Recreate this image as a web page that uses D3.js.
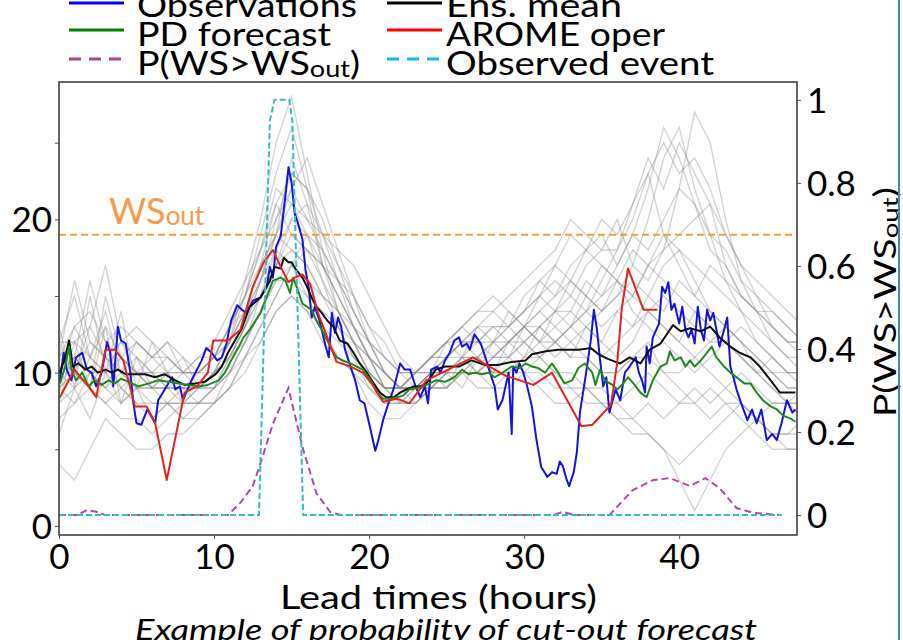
<!DOCTYPE html>
<html>
<head>
<meta charset="utf-8">
<script src="https://cdn.jsdelivr.net/npm/d3@7"></script>
<style>
body { margin: 0; background: #fff; }
text { font-family: Lato, "Noto Sans", sans-serif; }
</style>
</head>
<body>
<svg id="chart" width="903" height="640"></svg>
<script>
// ---- data ----
const xTicks = [0, 10, 20, 30, 40];
const yTicks = [0, 5, 10, 15, 20, 25];
const pTicks = [0, 0.2, 0.4, 0.6, 0.8, 1];
const wsOut = 19;

// observations (blue)
const obsH = [0.06,0.3,0.5,0.8,1.1,1.5,1.8,2.1,2.4,2.75,3.1,3.3,3.5,3.8,4.0,4.3,4.6,4.8,5.0,5.3,5.7,6.0,6.2,6.4,6.7,7.05,7.3,7.5,7.8,8.0,8.2,8.55,8.9,9.2,9.5,9.85,10.2,10.5,10.8,11.1,11.5,11.8,12.1,12.5,13.0,13.4,13.6,13.8,14.0,14.3,14.6,14.8,15.0,15.2,15.4,15.7,15.9,16.1,16.3,16.5,16.8,17.2,17.4,17.6,17.8,18.0,18.2,18.45,18.8,19.1,19.4,19.7,20.0,20.4,20.6,20.9,21.25,21.6,22.0,22.3,22.65,23.0,23.3,23.6,23.8,24.0,24.4,24.6,24.9,25.2,25.5,25.8,26.0,26.3,26.5,26.8,27.2,27.5,27.8,28.1,28.3,28.6,28.8,29.0,29.2,29.3,29.5,29.7,29.95,30.2,30.5,30.8,31.1,31.5,31.8,32.1,32.3,32.5,32.75,32.9,33.2,33.4,33.6,33.8,34.0,34.3,34.5,34.7,34.9,35.1,35.3,35.5,35.9,36.2,36.5,36.8,37.2,37.4,37.6,37.8,37.9,38.1,38.3,38.7,38.9,39.1,39.3,39.5,39.7,40.0,40.2,40.4,40.6,40.8,41.0,41.2,41.4,41.6,41.8,42.0,42.2,42.4,42.6,42.9,43.1,43.3,43.5,43.7,44.0,44.4,44.7,45.0,45.3,45.65,46.0,46.3,46.6,46.95,47.3,47.5];
const obsV = [9.5,11.3,10.2,9.5,11.0,11.3,10.2,10.0,9.1,10.0,12.0,11.3,9.1,13.0,12.1,11.9,10.0,8.0,6.7,6.6,7.6,7.1,6.7,8.2,8.7,9.3,9.7,8.9,9.1,8.2,8.7,9.5,10.2,10.8,11.6,11.3,10.8,11.0,11.9,13.4,14.4,14.1,13.9,14.7,14.9,15.6,16.9,16.2,18.2,18.9,21.5,23.4,22.4,20.4,19.8,18.7,16.7,15.6,13.6,14.3,13.4,11.7,11.0,13.9,12.6,13.6,13.0,11.5,10.4,9.5,8.2,8.0,6.7,4.9,5.6,6.9,8.0,9.0,10.6,10.2,10.2,9.1,8.4,9.1,8.0,10.2,10.4,10.0,10.8,11.3,12.1,12.3,11.7,11.9,11.5,12.5,11.9,11.0,10.0,9.1,7.6,8.2,9.1,10.0,6.0,10.4,10.0,10.6,10.0,9.1,7.8,5.6,3.85,3.2,3.5,3.4,4.2,3.9,3.0,2.6,3.5,4.8,7.4,8.7,10.0,12.1,14.1,12.8,10.8,9.1,9.7,7.4,8.9,8.2,10.0,10.4,11.0,10.0,9.5,8.7,11.7,10.6,12.3,13.2,15.6,15.2,15.9,14.1,14.5,13.2,14.3,12.8,12.3,12.8,11.9,14.3,12.8,12.1,14.1,13.4,13.9,12.8,11.7,12.8,13.6,10.4,9.7,8.9,8.0,6.9,7.6,6.7,7.6,5.6,6.0,5.6,6.7,8.2,7.4,7.6];

// ensemble mean (black)
const meanH = [0.06,0.4,0.65,0.9,1.25,1.7,2.1,2.5,3.0,3.4,3.8,4.3,4.9,5.55,6.2,6.8,7.5,8.1,8.8,9.4,10.1,10.5,10.9,11.35,11.8,12.3,13.0,13.6,13.9,14.3,14.5,14.8,15.0,15.3,15.7,16.0,16.3,16.6,16.95,17.3,17.7,18.1,18.6,19.0,19.4,19.85,20.3,20.7,21.1,21.6,22.0,22.4,22.9,23.3,23.7,24.3,24.9,25.8,26.6,27.5,28.3,29.2,30.1,30.5,31.4,32.2,32.9,33.5,34.3,34.8,35.4,35.9,36.2,36.8,37.5,38.1,38.8,39.4,39.6,40.1,40.7,41.4,42.0,42.6,43.3,43.9,44.6,45.2,45.9,46.5,47.2,47.5];
const meanV = [10.0,11.0,12.1,10.4,10.6,10.2,10.4,10.0,10.2,10.0,10.2,9.9,9.9,9.9,9.7,9.9,9.5,9.2,9.3,9.4,9.9,10.4,11.3,12.1,12.9,14.3,14.9,16.0,16.9,16.8,17.5,17.2,17.2,16.7,16.2,15.6,14.9,14.3,13.9,13.4,13.0,12.1,11.9,11.3,10.6,10.0,9.3,8.7,8.4,8.4,8.7,8.9,9.1,9.1,9.3,10.2,10.4,10.4,10.8,10.5,10.5,10.7,10.8,11.2,11.4,11.5,11.5,11.5,11.6,11.2,10.9,10.7,10.6,11.0,10.6,11.5,11.9,12.8,13.1,12.7,12.9,12.7,13.0,12.3,11.7,11.3,11.0,10.4,9.5,8.7,8.7,8.7];

// PD forecast (green)
const pdH = [0.06,0.4,0.65,0.8,1.1,1.5,1.9,2.3,2.75,3.2,3.6,4.0,4.5,5.1,5.8,6.4,7.05,7.7,8.3,9.0,9.6,10.3,10.7,11.1,11.6,11.9,12.3,13.0,13.5,13.8,14.3,14.6,14.9,15.1,15.4,15.7,16.0,16.3,16.6,17.05,17.5,17.9,18.3,18.8,19.2,19.6,20.1,20.5,20.9,21.35,21.8,22.2,22.6,23.1,23.5,23.9,24.3,24.9,25.5,26.0,26.4,26.8,27.3,27.7,28.1,28.6,29.2,29.7,30.1,30.5,30.9,31.35,31.8,32.2,32.6,33.1,33.5,33.9,34.4,34.6,34.9,35.2,35.7,36.0,36.4,36.7,37.05,37.5,37.9,38.3,38.8,39.2,39.4,39.7,40.1,40.4,40.7,41.0,41.4,41.8,42.1,42.4,42.9,43.3,43.7,44.2,44.6,45.0,45.4,45.9,46.3,46.7,47.2,47.5];
const pdV = [9.3,10.4,11.7,10.2,9.5,10.0,9.1,9.5,9.2,9.5,9.3,9.6,9.4,9.1,9.3,9.5,9.4,9.3,9.2,9.1,9.2,9.5,10.0,10.8,11.7,12.3,12.8,13.9,15.2,16.0,16.2,16.0,15.2,16.2,15.4,14.5,14.3,14.1,13.4,12.6,11.7,11.0,10.8,10.6,10.4,10.2,9.5,8.7,8.3,8.3,8.4,8.5,8.9,9.0,9.1,9.3,9.5,9.4,9.7,10.2,9.9,10.0,9.9,10.0,9.7,10.0,10.4,10.3,10.6,10.4,10.3,10.0,10.6,10.0,9.3,9.5,10.3,10.6,10.0,9.2,10.2,9.5,9.2,8.9,9.3,9.7,9.3,8.7,8.4,9.5,10.4,10.6,11.4,10.8,11.0,10.4,10.8,10.4,10.8,11.3,11.7,11.0,10.4,10.0,9.7,9.3,9.3,8.7,8.2,7.8,7.6,7.2,7.0,6.8];

// AROME oper (red)
const aromeH = [0.06,1.0,1.9,2.4,3.0,3.6,4.15,4.9,5.65,6.2,6.95,8.1,8.9,9.6,9.95,10.9,11.7,12.5,13.2,13.8,14.3,14.8,15.2,15.7,16.2,16.7,17.3,17.9,18.8,19.6,20.3,20.9,21.8,22.6,23.7,26.7,28.8,30.6,31.8,33.7,34.4,35.6,36.0,36.3,36.7,37.7,38.6];
const aromeV = [8.4,10.2,9.1,8.4,11.5,11.5,10.8,7.8,7.8,6.7,3.0,8.7,9.1,10.0,12.1,12.1,12.8,15.6,17.2,18.0,16.9,15.9,16.2,16.4,15.8,13.9,12.3,10.7,10.4,10.0,9.1,8.1,8.3,8.0,9.5,11.0,9.8,9.2,10.0,6.5,6.6,7.9,10.6,14.2,16.8,14.1,14.1];

// ensemble members (grey), hourly values from 0 h to 48 h
const memberHours = d3.range(0, 49);
const members = [
  [10,13,11,10,9,10,10,9,9,9,10,12,16,20,25,28,23,18,14,12,10,9,9,10,11,11,12,12,11,12,13,14,15,16,15,14,15,17,20,24,26,22,19,16,14,12,11,10,10],
  [9,11,16,12,10,11,10,10,9,10,11,13,15,18,22,21,19,16,13,11,10,9,9,10,10,11,11,10,11,12,12,13,12,13,14,16,18,21,23,19,17,15,14,13,12,11,10,9,9],
  [12,10,9,15,11,10,9,9,8,9,10,11,13,16,19,24,21,17,15,13,11,9,8,9,10,12,13,12,13,13,14,15,17,19,18,17,16,15,17,18,22,27,25,20,16,14,12,11,10],
  [8,9,10,9,8,9,8,8,8,8,9,10,12,14,17,18,17,15,13,11,9,8,8,9,9,10,10,11,10,10,11,12,11,12,13,14,15,16,15,17,18,16,14,13,12,10,9,8,8],
  [11,12,13,17,12,11,10,11,10,10,11,13,14,16,20,22,20,18,16,14,12,10,9,9,10,10,11,11,12,13,15,16,17,16,18,19,17,19,22,26,24,21,18,17,15,14,13,12,12],
  [4,3,5,7,6,5,5,6,6,7,8,9,11,12,14,15,14,12,11,10,8,7,7,8,9,9,10,9,9,10,10,9,8,8,9,8,7,6,6,5,4,5,6,7,8,7,6,5,5],
  [10,11,10,10,11,12,11,10,10,11,12,14,16,18,20,23,22,20,17,15,12,10,9,9,10,11,12,13,13,12,13,12,13,14,13,12,11,12,14,13,12,11,10,9,8,7,6,6,6],
  [9,10,9,8,9,8,7,8,7,7,8,9,11,13,15,17,16,15,14,13,12,11,10,10,11,12,13,14,14,13,12,11,12,13,14,15,16,14,13,12,11,10,11,12,13,12,11,10,10],
  [11,16,12,11,10,9,9,10,10,10,11,12,14,17,21,19,18,17,15,13,11,9,9,9,10,10,11,11,11,12,13,14,13,12,11,10,10,11,12,10,9,8,9,8,7,6,5,5,5],
  [10,9,11,10,12,13,12,11,10,9,9,10,12,15,17,20,19,17,16,15,13,12,10,9,9,10,10,10,11,11,12,13,14,15,17,18,20,17,16,18,19,20,21,17,15,14,14,13,12],
  [12,12,11,13,11,10,9,9,9,9,10,11,13,15,18,17,15,13,11,10,9,8,8,8,9,9,10,10,10,10,11,11,10,10,9,9,8,7,6,5,3,1,3,5,6,7,8,8,8],
  [9,10,12,11,10,10,11,12,11,10,10,12,14,16,19,22,24,21,18,15,13,11,10,10,11,12,12,13,14,15,16,17,18,20,19,18,18,20,23,25,23,24,22,19,17,15,13,12,11],
  [10,11,10,9,10,9,9,9,9,9,10,11,12,14,16,16,15,14,13,12,10,9,9,10,11,12,13,14,15,14,13,12,12,11,11,10,10,11,11,10,10,11,12,13,12,11,10,10,10],
  [7,8,9,8,7,7,6,7,8,8,9,11,13,15,17,19,18,16,14,12,10,9,9,9,10,10,10,10,9,9,10,11,12,13,12,11,12,13,14,15,14,13,12,12,11,10,9,8,7],
  [11,13,14,12,13,12,11,11,10,10,11,13,15,17,19,21,20,19,18,17,15,13,11,10,10,10,11,12,12,13,14,15,16,15,14,13,14,15,17,16,15,14,13,12,11,10,10,9,9],
  [10,10,9,11,9,8,8,8,8,8,8,9,10,12,14,15,14,13,12,11,10,9,8,8,9,9,10,10,11,11,12,11,10,9,9,8,8,9,10,9,8,8,7,8,8,7,6,6,7],
  [13,9,15,10,14,9,12,10,11,9,10,12,14,17,19,18,17,15,14,12,11,10,9,10,11,12,11,13,12,14,13,15,14,16,15,17,16,18,17,19,18,17,16,15,14,13,12,11,11],
  [8,12,9,13,8,11,9,10,8,9,9,11,13,16,18,20,21,19,16,13,11,10,9,9,10,9,11,10,12,11,13,12,14,13,15,14,16,15,14,13,12,14,13,12,11,10,11,10,9],
  [6,9,7,10,8,9,7,8,7,8,8,10,12,14,16,17,18,17,15,13,11,9,9,8,9,10,9,11,10,12,11,13,12,11,13,12,14,13,15,14,16,15,17,16,15,14,13,12,12],
  [12,15,11,14,10,12,11,12,10,11,11,13,15,18,21,23,22,19,17,14,12,11,10,10,11,11,12,12,13,13,14,16,15,17,18,20,19,21,24,22,25,23,21,19,17,16,15,14,13],
  [9,8,10,9,11,10,9,8,9,8,9,10,11,13,15,17,19,18,16,14,12,10,9,9,9,10,10,11,10,11,10,10,9,9,8,8,7,7,8,7,8,9,8,9,10,9,8,8,9],
  [11,10,13,11,12,10,10,9,10,10,11,12,15,19,23,26,22,17,14,12,11,10,9,10,10,11,12,11,12,12,13,13,14,14,16,15,17,19,18,20,22,21,19,18,16,15,14,13,12]
];

// probability of exceeding WS_out (purple, right axis)
const probH = [0,1.2,1.8,2.4,3,10.9,11.7,12.5,13.0,13.8,14.8,15.7,16.6,17.5,18.2,31.9,32.5,33.2,35.5,37.0,38.3,39.4,40.7,41.7,42.6,43.7,44.8,46.6];
const probV = [0,0,0.012,0.008,0,0,0.03,0.07,0.125,0.22,0.306,0.164,0.053,0.007,0,0,0.008,0,0,0.06,0.084,0.089,0.07,0.089,0.065,0.017,0.005,0];

// observed event (cyan, right axis)
const eventH = [0, 12.9, 13.6, 13.9, 14.85, 15.05, 15.75, 46.6];
const eventV = [0, 0, 0.95, 1, 1, 0.95, 0, 0];

// legend entries
const legendNames = [['Observations', 'Ens. mean'], ['PD forecast', 'AROME oper'], ['P(WS>WS', 'Observed event']];

// ---- layout ----
const svg = d3.select('#chart');
const box = { left: 59, right: 797, top: 82, bottom: 535 };

const x = d3.scaleLinear().domain([0, 47.6]).range([box.left, box.right]);
const y = d3.scaleLinear().domain([-0.59, 28.96]).range([box.bottom, box.top]);
const yp = d3.scaleLinear().domain([-0.048, 1.043]).range([box.bottom, box.top]);

svg.append('defs').append('clipPath').attr('id', 'plot')
  .append('rect').attr('x', box.left).attr('y', box.top)
  .attr('width', box.right - box.left).attr('height', box.bottom - box.top);

const plot = svg.append('g').attr('clip-path', 'url(#plot)');

const lineOf = (hs, vs, scale) => d3.line()
  .x((d, i) => x(hs[i]))
  .y(d => scale(d))(vs);

// grey members
plot.selectAll('.member').data(members).enter()
  .append('path')
  .attr('class', 'member')
  .attr('d', d => lineOf(memberHours, d, y))
  .attr('fill', 'none')
  .attr('stroke', '#8c8c8c')
  .attr('stroke-opacity', 0.38)
  .attr('stroke-width', 1.4);

// threshold
plot.append('line')
  .attr('x1', box.left).attr('x2', box.right)
  .attr('y1', y(wsOut)).attr('y2', y(wsOut))
  .attr('stroke', '#eba436').attr('stroke-width', 2)
  .attr('stroke-dasharray', '7,4');

const mainLines = [
  { h: obsH, v: obsV, color: '#1414d8' },
  { h: meanH, v: meanV, color: '#111' },
  { h: pdH, v: pdV, color: '#1d8a1d' },
  { h: aromeH, v: aromeV, color: '#e3241c' }
];
plot.selectAll('.main').data(mainLines).enter()
  .append('path')
  .attr('class', 'main')
  .attr('d', d => lineOf(d.h, d.v, y))
  .attr('fill', 'none')
  .attr('stroke', d => d.color)
  .attr('stroke-width', 2)
  .attr('stroke-linejoin', 'round');

plot.append('path')
  .attr('d', lineOf(probH, probV, yp))
  .attr('fill', 'none').attr('stroke', '#b444b4').attr('stroke-width', 2)
  .attr('stroke-dasharray', '7,4');

plot.append('path')
  .attr('d', lineOf(eventH, eventV, yp))
  .attr('fill', 'none').attr('stroke', '#38bcc4').attr('stroke-width', 2)
  .attr('stroke-dasharray', '6,3');

// WS_out label
const wsLabel = svg.append('text').attr('x', 109).attr('y', 224)
  .attr('fill', '#f59a50').attr('font-size', 36).text('WS');
wsLabel.append('tspan').attr('font-size', 26).attr('dy', 1).text('out');

// frame
svg.append('rect')
  .attr('x', box.left).attr('y', box.top)
  .attr('width', box.right - box.left).attr('height', box.bottom - box.top)
  .attr('fill', 'none').attr('stroke', '#333').attr('stroke-width', 1.5);

// axes
const fmtLeft = d => (d % 10 === 0 ? d : '');
const gl = svg.append('g').attr('transform', `translate(${box.left},0)`)
  .call(d3.axisLeft(y).tickValues(yTicks).tickFormat(fmtLeft).tickSize(4).tickPadding(3));
const gb = svg.append('g').attr('transform', `translate(0,${box.bottom})`)
  .call(d3.axisBottom(x).tickValues(xTicks).tickSize(4).tickPadding(4));
const gr = svg.append('g').attr('transform', `translate(${box.right},0)`)
  .call(d3.axisRight(yp).tickValues(pTicks)
    .tickFormat(d => (d === 0 || d === 1 ? d : d3.format('.1f')(d))).tickSize(4).tickPadding(6));

[gl, gb, gr].forEach(g => {
  g.select('.domain').remove();
  g.selectAll('.tick line').attr('stroke', '#555');
  g.selectAll('.tick text').attr('font-size', 35).attr('fill', '#000')
    .style('font-family', 'Lato, sans-serif');
});
gl.selectAll('.tick text').attr('dy', '0.36em');
gr.selectAll('.tick text').attr('dy', '0.36em');
gb.selectAll('.tick text').attr('dy', '0.74em');

// axis titles (the picture is a little stretched sideways, so widths are set)
svg.append('text').attr('x', 280).attr('y', 609)
  .attr('font-size', 32)
  .attr('textLength', 317).attr('lengthAdjust', 'spacingAndGlyphs')
  .text('Lead times (hours)');

const rt = svg.append('text')
  .attr('transform', 'translate(896,417) rotate(-90)')
  .attr('font-size', 31)
  .attr('textLength', 230).attr('lengthAdjust', 'spacingAndGlyphs');
rt.append('tspan').text('P(WS>WS');
rt.append('tspan').attr('font-size', 22).attr('dy', 2).text('out');
rt.append('tspan').attr('dy', -2).text(')');

// caption
svg.append('text').attr('x', 135).attr('y', 640)
  .attr('font-size', 29).attr('font-style', 'italic')
  .attr('textLength', 622).attr('lengthAdjust', 'spacingAndGlyphs')
  .text('Example of probability of cut-out forecast');

// legend
const legendColors = [['#0000ff', '#000'], ['#008000', '#ff0000'], ['#a8468a', '#12b8ee']];
const legendWidths = [[220, 176], [194, 219], [223, 268]];
const legendLineY = [3, 30, 59];
const legendX = [[69, 137], [387, 446]];
legendNames.forEach((row, r) => {
  const base = 17 + r * 29;
  row.forEach((name, c) => {
    svg.append('line')
      .attr('x1', legendX[c][0]).attr('x2', legendX[c][0] + 55)
      .attr('y1', legendLineY[r]).attr('y2', legendLineY[r])
      .attr('stroke', legendColors[r][c]).attr('stroke-width', 3)
      .attr('stroke-dasharray', r === 2 ? '12,8' : null);
    const t = svg.append('text').attr('x', legendX[c][1]).attr('y', base)
      .attr('font-size', 32)
      .attr('textLength', legendWidths[r][c]).attr('lengthAdjust', 'spacingAndGlyphs')
      .text(name);
    if (r === 2 && c === 0) {
      t.append('tspan').attr('font-size', 23).attr('dy', 2).text('out');
      t.append('tspan').attr('dy', -2).text(')');
    }
  });
});

// slide border on the right
svg.append('line').attr('x1', 899).attr('x2', 899).attr('y1', 0).attr('y2', 640)
  .attr('stroke', '#3d86c0').attr('stroke-width', 2);
</script>
</body>
</html>
